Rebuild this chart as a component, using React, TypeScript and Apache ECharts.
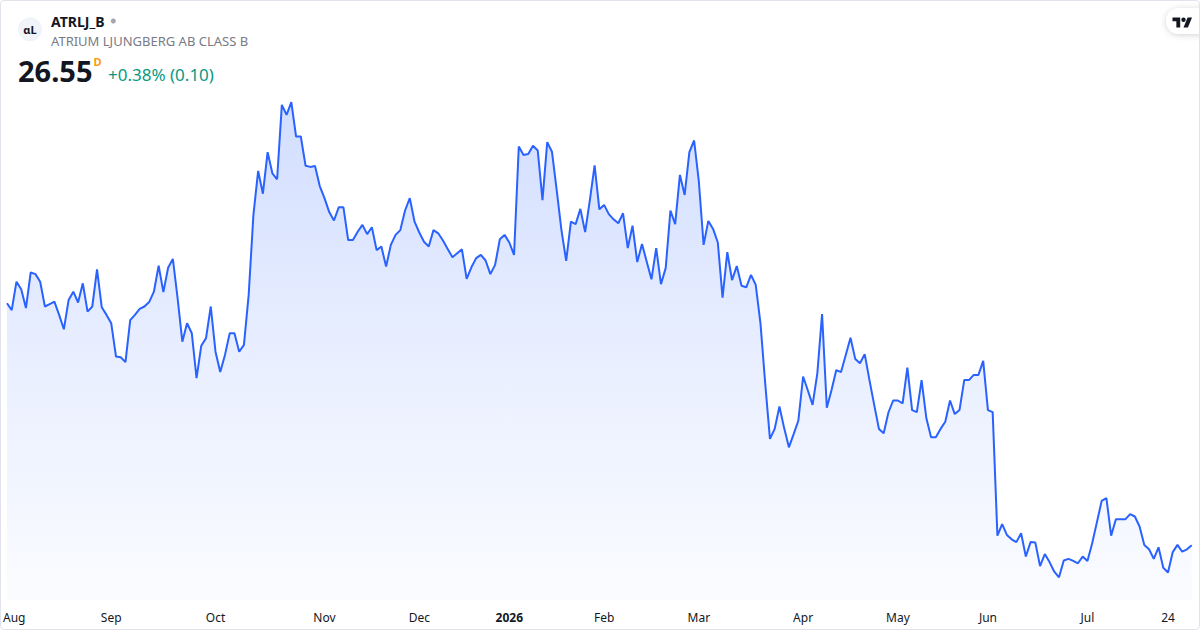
import React, { useEffect, useRef } from "react";
import * as echarts from "echarts";

// Daily closes (SEK), 2025-07-31 .. 2026-07-31
const closesAugOct = [
  32.6, 32.43, 33.14, 32.95, 32.48, 33.37, 33.33, 33.14, 32.52, 32.58, 32.64, 32.31, 31.95, 32.68, 32.89, 32.62, 33.1,
  32.39, 32.52, 33.45, 32.5, 32.31, 32.1, 31.27, 31.25, 31.13, 32.18, 32.31, 32.46, 32.52, 32.63, 32.89, 33.54,
  32.88, 33.49, 33.71, 32.73, 31.64, 32.1, 31.85, 30.73, 31.54, 31.73, 32.52, 31.39, 30.88, 31.31, 31.85, 31.85, 31.39,
  31.56, 32.81, 34.81, 35.91, 35.34, 36.38, 35.85, 35.7, 37.56, 37.31, 37.63, 36.77, 36.77, 36.04, 36.01, 36.03,
];
const closesNovJan = [
  35.53, 35.23, 34.88, 34.67, 35.0, 35.0, 34.18, 34.18, 34.39, 34.56, 34.33, 34.5, 33.93, 34.02, 33.52, 34.06, 34.31,
  34.43, 34.92, 35.23, 34.64, 34.37, 34.14, 34.02, 34.43, 34.35, 34.17, 33.96, 33.75, 33.85, 33.95, 33.21,
  33.5, 33.73, 33.81, 33.67, 33.33, 33.56, 34.2, 34.31, 34.12, 33.81, 36.52, 36.31, 36.33, 36.54, 36.42, 35.18, 36.63,
  36.39, 35.43, 34.43, 33.66, 34.64, 34.58, 34.96, 34.38, 35.18, 36.05, 34.95, 35.06, 34.83, 34.7, 34.6, 34.85,
];
const closesFebApr = [
  33.98, 34.54, 33.63, 34.08, 33.64, 33.2, 33.98, 33.08, 33.48, 34.92, 34.58, 35.81, 35.31, 36.38, 36.67, 35.64, 34.06,
  34.66, 34.46, 34.12, 32.74, 33.88, 33.18, 33.53, 33.04, 33.0, 33.31, 33.06, 32.1, 30.6, 29.21, 29.46, 30.02,
  29.48, 29.0, 29.33, 29.67, 30.77, 30.42, 30.06, 30.85, 32.33, 29.99, 30.43, 30.93, 30.88, 31.31, 31.74, 31.21, 31.1,
  31.33, 30.68, 30.06, 29.46, 29.35, 29.87, 30.17, 30.17, 30.1, 30.99, 29.93, 29.88, 30.68, 29.73, 29.25, 29.25,
];
const closesMayJul = [
  29.46, 29.64, 30.17, 29.83, 29.93, 30.68, 30.68, 30.81, 30.81, 31.16, 29.93, 29.88, 26.79, 27.08, 26.81, 26.7, 26.63,
  26.85, 26.27, 26.63, 26.62, 26.03, 26.33, 26.13, 25.89, 25.75, 26.17, 26.21,
  26.16, 26.1, 26.27, 26.16, 26.6, 27.13, 27.66, 27.73, 26.79, 27.2, 27.2, 27.2, 27.33, 27.27, 27.02, 26.56, 26.45,
  26.21, 26.5, 25.99, 25.87, 26.38, 26.56, 26.39, 26.45, 26.55,
];
const closes = [...closesAugOct, ...closesNovJan, ...closesFebApr, ...closesMayJul];

// Stockholm exchange holidays in the period (weekdays)
const holidays = [
  "2025-12-24", "2025-12-25", "2025-12-26", "2025-12-31", "2026-01-01", "2026-01-06",
  "2026-04-03", "2026-04-06", "2026-05-01", "2026-05-14", "2026-06-19",
];
const firstDay = "2025-07-31";
const lastDay = "2026-07-31";
const monthNames = ["Jan", "Feb", "Mar", "Apr", "May", "Jun", "Jul", "Aug", "Sep", "Oct", "Nov", "Dec"];
const dayLabels = ["2026-07-24"];

const header = {
  symbol: "ATRLJ_B",
  name: "ATRIUM LJUNGBERG AB CLASS B",
  price: "26.55",
  period: "D",
  change: "+0.38% (0.10)",
};

function tradingDays(): string[] {
  const out: string[] = [];
  const [y0, m0, d0] = firstDay.split("-").map(Number);
  const t = new Date(Date.UTC(y0, m0 - 1, d0));
  for (;;) {
    const s = t.toISOString().slice(0, 10);
    const wd = t.getUTCDay();
    if (wd !== 0 && wd !== 6 && holidays.indexOf(s) < 0) out.push(s);
    if (s === lastDay) break;
    t.setUTCDate(t.getUTCDate() + 1);
  }
  return out;
}

const TV_PATH =
  "M14 22H7V11H0V4h14v18zM28 22h-8l7.5-18h8L28 22zM24 8a4 4 0 1 1-8 0a4 4 0 1 1 8 0z";
echarts.graphic.registerShape("tvlogo", echarts.graphic.extendPath(TV_PATH, {}) as any);

const FONT = "'Noto Sans', 'Open Sans', sans-serif";

export default function App() {
  const ref = useRef<HTMLDivElement>(null);
  useEffect(() => {
    if (!ref.current) return;
    const chart = echarts.init(ref.current, undefined, { renderer: "svg" });
    const cats = tradingDays();
    const option: any = {
      animation: false,
      backgroundColor: "#ffffff",
      grid: { left: 0.5, right: 8.3, top: 0, bottom: 30, containLabel: false },
      xAxis: {
        type: "category",
        data: cats,
        boundaryGap: false,
        axisLine: { show: false },
        axisTick: { show: false },
        splitLine: { show: false },
        axisLabel: {
          margin: 11,
          color: "#131722",
          fontSize: 12,
          fontFamily: FONT,
          interval: (index: number, value: string) => {
            if (index === 0) return false;
            if (dayLabels.indexOf(value) >= 0) return true;
            return cats[index].slice(0, 7) !== cats[index - 1].slice(0, 7);
          },
          formatter: (value: string) => {
            const [y, m, d] = value.split("-");
            if (dayLabels.indexOf(value) >= 0) return String(Number(d));
            if (m === "01") return "{b|" + y + "}";
            if (m === "08") return "{a|" + monthNames[7] + "}";
            return monthNames[Number(m) - 1];
          },
          rich: {
            b: { fontWeight: "bold", fontSize: 12, color: "#131722", fontFamily: FONT },
            a: { fontSize: 12, color: "#131722", fontFamily: FONT, padding: [0, 0, 0, 5] },
          },
        },
      },
      yAxis: {
        type: "value",
        min: 25.1825,
        max: 40.1825,
        show: false,
        splitLine: { show: false },
      },
      series: [
        {
          type: "line",
          data: closes,
          symbol: "none",
          showSymbol: false,
          lineStyle: { color: "#2962ff", width: 2 },
          areaStyle: {
            color: new echarts.graphic.LinearGradient(0, 0, 0, 1, [
              { offset: 0, color: "rgba(41,98,255,0.3)" },
              { offset: 0.5, color: "rgba(41,98,255,0.15)" },
              { offset: 1, color: "rgba(41,98,255,0.03)" },
            ]),
          },
        },
      ],
      graphic: [
        { type: "circle", shape: { cx: 30, cy: 29.3, r: 12 }, style: { fill: "#f0f3fa" } },
        {
          type: "text",
          x: 30,
          y: 29.5,
          style: { text: "αL", fill: "#131722", font: "bold 11px " + FONT, align: "center", verticalAlign: "middle" },
        },
        {
          type: "text",
          x: 51,
          y: 21,
          style: { text: header.symbol, fill: "#131722", font: "bold 14px " + FONT, verticalAlign: "middle" },
        },
        { type: "circle", shape: { cx: 113.3, cy: 21, r: 2.5 }, style: { fill: "#a3a6af" } },
        {
          type: "text",
          x: 51,
          y: 41,
          style: { text: header.name, fill: "#787b86", font: "13px " + FONT, verticalAlign: "middle" },
        },
        {
          type: "text",
          x: 18,
          y: 70,
          style: { text: header.price, fill: "#131722", font: "bold 29px " + FONT, verticalAlign: "middle" },
        },
        {
          type: "text",
          x: 93.5,
          y: 61,
          style: { text: header.period, fill: "#ff9800", font: "bold 11px " + FONT, verticalAlign: "middle" },
        },
        {
          type: "text",
          x: 108,
          y: 74,
          style: { text: header.change, fill: "#089981", font: "17px " + FONT, verticalAlign: "middle" },
        },
        {
          type: "rect",
          shape: { x: 1166, y: 8, width: 50, height: 26, r: 13 },
          style: { fill: "#ffffff", shadowBlur: 6, shadowColor: "rgba(0,0,0,0.18)", shadowOffsetY: 1 },
        },
        { type: "tvlogo", x: 1172.5, y: 15.3, scaleX: 0.55, scaleY: 0.55, style: { fill: "#131722" } },
      ],
    };
    chart.setOption(option);
    return () => chart.dispose();
  }, []);
  return (
    <>
      <div ref={ref} style={{ position: "fixed", left: 0, top: 0, width: 1200, height: 630 }} />
      <div
        style={{
          position: "fixed",
          left: 0,
          top: 0,
          width: 1200,
          height: 630,
          boxSizing: "border-box",
          border: "1px solid #e0e3eb",
          borderRadius: 4,
          pointerEvents: "none",
        }}
      />
    </>
  );
}
